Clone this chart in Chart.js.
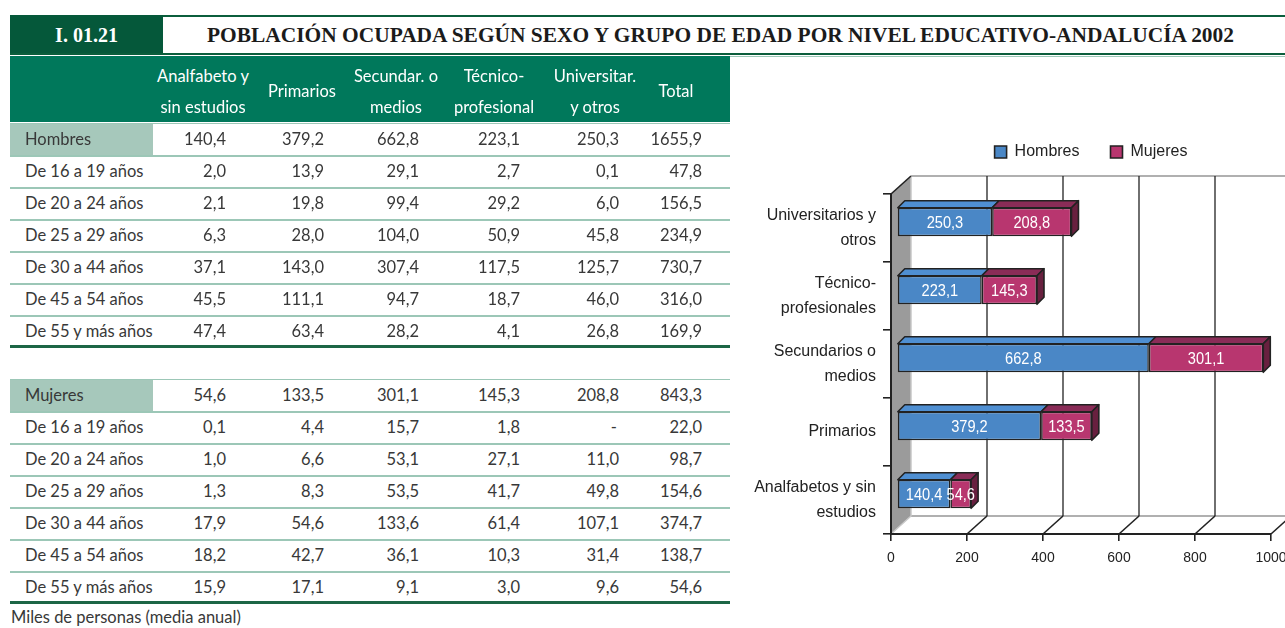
<!DOCTYPE html>
<html><head><meta charset="utf-8">
<script src="https://cdn.jsdelivr.net/npm/chart.js@4.4.1/dist/chart.umd.min.js"></script>
<style>
html,body{margin:0;padding:0;background:#fff;}
#page{position:relative;width:1285px;height:628px;overflow:hidden;font-family:Lato,"Open Sans",sans-serif;color:#383838;}
.box{position:absolute;}
.t{position:absolute;white-space:nowrap;font-size:16.5px;line-height:20px;}
#chartWrap{position:absolute;left:735px;top:113px;width:570px;height:458px;}
</style></head><body><div id="page">
<div class="box" style="left:163px;top:15px;width:1122px;height:2px;background:#0b5e3c"></div>
<div class="box" style="left:10px;top:15px;width:153px;height:39px;background:#05583a"></div>
<div class="box" style="left:10px;top:53px;width:1275px;height:2px;background:#0b5e3c"></div>
<div class="box" style="left:730px;top:56px;width:555px;height:1px;background:#9cc7b7"></div>
<div class="box" style="left:10px;top:56px;width:720px;height:66px;background:#00785b"></div>
<div class="t" style="left:10px;width:153px;text-align:center;top:24px;font:bold 20px 'Liberation Serif',serif;color:#fff;line-height:22px">I. 01.21</div>
<div class="t" id="title" style="left:207px;top:24px;font:bold 20px 'Liberation Serif',serif;color:#1b1b1b;line-height:22px;transform-origin:0 50%">POBLACIÓN OCUPADA SEGÚN SEXO Y GRUPO DE EDAD POR NIVEL EDUCATIVO-ANDALUCÍA 2002</div>
<div id="chartWrap"><canvas id="c" width="570" height="458"></canvas></div>
</div>
<script>
// ---------- table data ----------
const colHeaders = [["Analfabeto y","sin estudios"],["Primarios"],["Secundar. o","medios"],["Técnico-","profesional"],["Universitar.","y otros"],["Total"]];
const ageGroups = ["De 16 a 19 años","De 20 a 24 años","De 25 a 29 años","De 30 a 44 años","De 45 a 54 años","De 55 y más años"];
const hombresTotal = ["140,4","379,2","662,8","223,1","250,3","1655,9"];
const hombresRows = [
  ["2,0","13,9","29,1","2,7","0,1","47,8"],
  ["2,1","19,8","99,4","29,2","6,0","156,5"],
  ["6,3","28,0","104,0","50,9","45,8","234,9"],
  ["37,1","143,0","307,4","117,5","125,7","730,7"],
  ["45,5","111,1","94,7","18,7","46,0","316,0"],
  ["47,4","63,4","28,2","4,1","26,8","169,9"]
];
const mujeresTotal = ["54,6","133,5","301,1","145,3","208,8","843,3"];
const mujeresRows = [
  ["0,1","4,4","15,7","1,8","-","22,0"],
  ["1,0","6,6","53,1","27,1","11,0","98,7"],
  ["1,3","8,3","53,5","41,7","49,8","154,6"],
  ["17,9","54,6","133,6","61,4","107,1","374,7"],
  ["18,2","42,7","36,1","10,3","31,4","138,7"],
  ["15,9","17,1","9,1","3,0","9,6","54,6"]
];
const footnote = "Miles de personas (media anual)";

// ---------- chart data ----------
const categories = [["Universitarios y","otros"],["Técnico-","profesionales"],["Secundarios o","medios"],["Primarios"],["Analfabetos y sin","estudios"]];
const hombres = [250.3, 223.1, 662.8, 379.2, 140.4];
const mujeres = [208.8, 145.3, 301.1, 133.5, 54.6];
const seriesNames = ["Hombres","Mujeres"];
const xTicks = [0, 200, 400, 600, 800, 1000];

// ---------- build table ----------
const page = document.getElementById('page');
function addText(str, x, cy, align, extra) {
  const d = document.createElement('div');
  d.className = 't';
  d.textContent = str;
  d.style.top = (cy - 10) + 'px';
  if (align === 'right') { d.style.right = (1285 - x) + 'px'; }
  else if (align === 'center') { d.style.left = (x - 100) + 'px'; d.style.width = '200px'; d.style.textAlign = 'center'; }
  else { d.style.left = x + 'px'; }
  if (extra) Object.assign(d.style, extra);
  page.appendChild(d);
}
function addBox(x, y, w, h, c) {
  const d = document.createElement('div');
  d.className = 'box';
  Object.assign(d.style, {left: x + 'px', top: y + 'px', width: w + 'px', height: h + 'px', background: c});
  page.appendChild(d);
}
const colRight = [226, 324, 419, 520, 619, 702];
const colCenter = [203, 302, 396, 494, 595, 676];
colHeaders.forEach((h, i) => {
  if (h.length === 2) {
    addText(h[0], colCenter[i], 76, 'center', {color: '#fff'});
    addText(h[1], colCenter[i], 107, 'center', {color: '#fff'});
  } else {
    addText(h[0], colCenter[i], 91, 'center', {color: '#fff'});
  }
});
const blocks = [
  {label: "Hombres", total: hombresTotal, rows: hombresRows, y0: 139},
  {label: "Mujeres", total: mujeresTotal, rows: mujeresRows, y0: 395}
];
blocks.forEach(b => {
  addBox(10, b.y0 - 16, 720, 1, '#9cc7b7');
  addBox(10, b.y0 - 15, 143, 31, '#a6c8bb');
  addText(b.label, 25, b.y0, 'left');
  b.total.forEach((v, i) => addText(v, colRight[i], b.y0, 'right'));
  b.rows.forEach((r, k) => {
    const cy = b.y0 + 32 * (k + 1);
    addBox(10, cy - 16, 720, 1.5, '#9cc7b7');
    addText(ageGroups[k], 25, cy, 'left');
    r.forEach((v, i) => addText(v, colRight[i] - (v === '-' ? 2 : 0), cy, 'right'));
  });
  addBox(10, b.y0 + 206, 720, 2.5, '#1d6646');
});
addText(footnote, 11, 617, 'left');

// fit title width
const title = document.getElementById('title');
const tw = title.getBoundingClientRect().width;
title.style.transform = 'scaleX(' + (1027 / tw) + ')';

// ---------- chart ----------
const BLUE = '#4a87c6', MAG = '#b8366f';
const BLUE_TOP = '#4f8fd2', MAG_TOP = '#8a2c57', MAG_SIDE = '#68203f';
const EDGE = '#222';
const FONT = '"Liberation Sans", Arial, sans-serif';
const BD = 7;          // bar depth
const WX = 20, WY = 18; // wall depth
const OX = 6, OY = -6;  // bar placement inside depth
const LEGEND_SHIFT = 10;

const fmt = v => v.toFixed(1).replace('.', ',');

const threeD = {
  id: 'threeD',
  afterLayout(chart) {
    if (chart.legend) { chart.legend.left += LEGEND_SHIFT; chart.legend.right += LEGEND_SHIFT; }
  },
  beforeDraw(chart) {
    const {ctx, chartArea: a, scales: {x}} = chart;
    const W = chart.width;
    ctx.save();
    ctx.strokeStyle = '#b0b0b0'; ctx.lineWidth = 2;
    ctx.beginPath(); ctx.moveTo(a.left + WX, a.top - WY); ctx.lineTo(W, a.top - WY); ctx.stroke();
    ctx.beginPath(); ctx.moveTo(a.left + WX, a.bottom - WY); ctx.lineTo(W, a.bottom - WY); ctx.stroke();
    ctx.strokeStyle = EDGE; ctx.lineWidth = 1.3;
    xTicks.forEach(v => {
      if (v === 0) return;
      const px = x.getPixelForValue(v) + WX;
      ctx.beginPath(); ctx.moveTo(px, a.top - WY); ctx.lineTo(px, a.bottom - WY); ctx.stroke();
    });
    ctx.lineWidth = 1.6;
    xTicks.forEach(v => {
      if (v === 0) return;
      const px = x.getPixelForValue(v);
      ctx.beginPath(); ctx.moveTo(px, a.bottom); ctx.lineTo(px + WX, a.bottom - WY); ctx.stroke();
    });
    ctx.fillStyle = '#9b9b9b';
    ctx.beginPath();
    ctx.moveTo(a.left, a.top); ctx.lineTo(a.left + WX, a.top - WY);
    ctx.lineTo(a.left + WX, a.bottom - WY); ctx.lineTo(a.left, a.bottom); ctx.closePath();
    ctx.fill();
    ctx.strokeStyle = '#c8c8c8'; ctx.lineWidth = 1.5;
    ctx.beginPath(); ctx.moveTo(a.left + WX, a.top - WY); ctx.lineTo(a.left + WX, a.bottom - WY);
    ctx.lineTo(a.left, a.bottom); ctx.stroke();
    ctx.strokeStyle = EDGE; ctx.lineWidth = 1.6;
    ctx.beginPath(); ctx.moveTo(a.left, a.top); ctx.lineTo(a.left + WX, a.top - WY); ctx.stroke();
    ctx.restore();
  },
  beforeDatasetsDraw(chart) {
    chart.ctx.save();
    chart.ctx.translate(OX, OY);
  },
  afterDatasetsDraw(chart) {
    const ctx = chart.ctx;
    const metas = [chart.getDatasetMeta(0), chart.getDatasetMeta(1)];
    const tops = [BLUE_TOP, MAG_TOP];
    ctx.lineWidth = 1.6; ctx.strokeStyle = EDGE; ctx.lineJoin = 'round';
    metas.forEach((m, di) => {
      m.data.forEach(el => {
        const p = el.getProps(['x', 'y', 'base', 'height'], true);
        const t = p.y - p.height / 2, bt = p.y + p.height / 2;
        ctx.fillStyle = tops[di];
        ctx.beginPath();
        ctx.moveTo(p.base, t); ctx.lineTo(p.base + BD, t - BD); ctx.lineTo(p.x + BD, t - BD); ctx.lineTo(p.x, t);
        ctx.closePath(); ctx.fill(); ctx.stroke();
        if (di === metas.length - 1) {
          ctx.fillStyle = MAG_SIDE;
          ctx.beginPath();
          ctx.moveTo(p.x, t); ctx.lineTo(p.x + BD, t - BD); ctx.lineTo(p.x + BD, bt - BD); ctx.lineTo(p.x, bt);
          ctx.closePath(); ctx.fill(); ctx.stroke();
        }
      });
    });
    ctx.fillStyle = '#fff';
    ctx.font = '17px ' + FONT;
    ctx.textAlign = 'center'; ctx.textBaseline = 'middle';
    metas.forEach((m, di) => {
      const vals = di === 0 ? hombres : mujeres;
      m.data.forEach((el, j) => {
        const p = el.getProps(['x', 'y', 'base'], true);
        ctx.save();
        ctx.translate((p.x + p.base) / 2, p.y + 1);
        ctx.scale(0.86, 1);
        ctx.fillText(fmt(vals[j]), 0, 0);
        ctx.restore();
      });
    });
    ctx.restore();
  }
};

new Chart(document.getElementById('c'), {
  type: 'bar',
  data: {
    labels: categories,
    datasets: [
      {label: seriesNames[0], data: hombres, backgroundColor: BLUE, borderColor: EDGE, borderWidth: 1.6, borderSkipped: false, xAxisID: 'x'},
      {label: seriesNames[1], data: mujeres, backgroundColor: MAG, borderColor: EDGE, borderWidth: 1.6, borderSkipped: false, xAxisID: 'x'}
    ]
  },
  options: {
    indexAxis: 'y',
    responsive: false,
    animation: false,
    layout: {padding: {left: 0, right: 34, top: 0, bottom: 0}},
    datasets: {bar: {barPercentage: 0.42, categoryPercentage: 1}},
    plugins: {
      tooltip: {enabled: false},
      legend: {
        position: 'top', fullSize: false, align: 'center',
        labels: {boxWidth: 12, boxHeight: 12, padding: 31, color: '#222',
                 font: {family: FONT, size: 16}}
      }
    },
    scales: {
      x: {
        stacked: true, min: 0, max: 1000,
        afterBuildTicks: s => { s.ticks = xTicks.map(v => ({value: v})); },
        afterFit: s => { s.height = 37; },
        ticks: {color: '#222', padding: 9, font: {family: FONT, size: 14}, maxRotation: 0,
                callback: v => String(v)},
        grid: {drawOnChartArea: false, drawTicks: true, tickLength: 7, color: EDGE, lineWidth: 1.6},
        border: {display: true, color: EDGE, width: 2}
      },
      gap: {
        type: 'linear', position: 'top', display: true,
        afterFit: s => { s.height = 24; },
        ticks: {display: false},
        grid: {display: false},
        border: {display: false}
      },
      y: {
        stacked: true,
        afterFit: s => { s.width = 156; },
        ticks: {color: '#222', padding: 7, font: {family: FONT, size: 16, lineHeight: 1.55}},
        grid: {drawOnChartArea: false, drawTicks: true, tickLength: 8, color: EDGE, lineWidth: 1.6, offset: true},
        border: {display: true, color: EDGE, width: 2}
      }
    }
  },
  plugins: [threeD]
});
</script>
</body></html>
